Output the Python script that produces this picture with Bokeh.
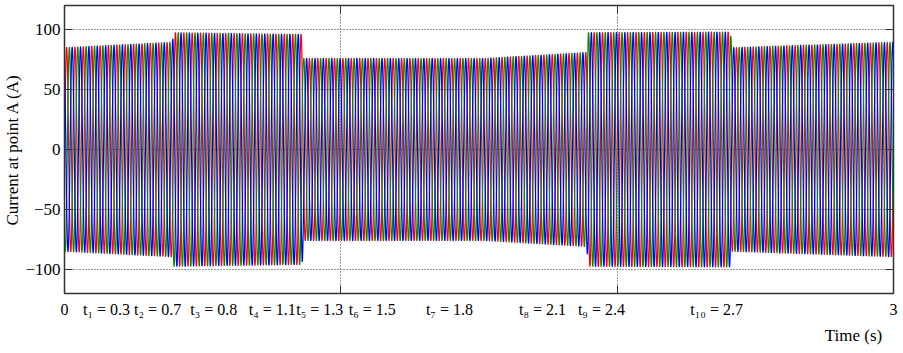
import numpy as np
from bokeh.plotting import figure
from bokeh.models import LinearAxis, FixedTicker, Range1d
from bokeh.embed import file_html
from bokeh.resources import INLINE

# ---- data ----
freq_hz = 33  # apparent stripe frequency in the picture
# amplitude envelope (A) at breakpoint times (s)
env_t = [0.0, 0.39, 0.395, 0.86, 0.865, 1.52, 1.89, 1.895, 2.41, 2.415, 3.0]
env_a = [85.0, 89.5, 97.5, 96.0, 76.0, 76.0, 81.0, 97.5, 98.0, 85.0, 89.5]
phase_deg = [0, -120, 120]
event_labels = ["t\u2081 = 0.3", "t\u2082 = 0.7", "t\u2083 = 0.8", "t\u2084 = 1.1",
                "t\u2085 = 1.3", "t\u2086 = 1.5", "t\u2087 = 1.8", "t\u2088 = 2.1",
                "t\u2089 = 2.4", "t\u2081\u2080 = 2.7"]
x_ticks = [0, 1, 2, 3]
x_tick_text = ["0", "3"]
x_tick_text_pos = [0, 3]
y_ticks = [-100, -50, 0, 50, 100]

# ---- layout / style ----
phase_colors = ["#ff0000", "#008c00", "#0000ff"]
event_label_center = [0.152, 0.337, 0.540, 0.752, 0.924, 1.114, 1.393, 1.730, 1.943, 2.360]
time_label_center = 2.855
FONT = "'Liberation Serif', 'Times New Roman', serif"

t = np.linspace(0.0, 3.0, 12001)
env = np.interp(t, env_t, env_a)

p = figure(frame_width=829, frame_height=288,
           x_range=Range1d(0, 3), y_range=Range1d(-120, 120),
           output_backend="svg", toolbar_location=None,
           min_border_left=50, min_border_right=8, min_border_top=5,
           min_border_bottom=0)
p.background_fill_color = "white"
p.border_fill_color = "white"
p.outline_line_color = "#333333"
p.outline_line_width = 1.5

for ph, col in zip(phase_deg, phase_colors):
    y = env * np.sin(2 * np.pi * freq_hz * t + np.deg2rad(ph))
    p.line(t, y, line_color=col, line_width=1.2)


def bare_axis(ax, ticks):
    ax.ticker = FixedTicker(ticks=ticks)
    ax.major_label_overrides = {v: "" for v in ticks}
    ax.major_label_standoff = 0
    ax.major_tick_in = 8
    ax.major_tick_out = 0
    ax.minor_tick_in = 0
    ax.minor_tick_out = 0
    ax.axis_line_color = "#333333"
    ax.major_tick_line_color = "#333333"


def text_axis(ax, positions, texts, size, standoff):
    ax.ticker = FixedTicker(ticks=positions)
    ax.major_label_overrides = dict(zip(positions, texts))
    ax.major_label_standoff = standoff
    ax.major_tick_in = 0
    ax.major_tick_out = 0
    ax.minor_tick_in = 0
    ax.minor_tick_out = 0
    ax.axis_line_color = None
    ax.major_label_text_font = FONT
    ax.major_label_text_font_size = size
    ax.major_label_text_color = "black"


bare_axis(p.xaxis[0], x_ticks)
ya = p.yaxis[0]
ya.ticker = FixedTicker(ticks=y_ticks)
ya.major_tick_in = 8
ya.major_tick_out = 0
ya.minor_tick_in = 0
ya.minor_tick_out = 0
ya.axis_line_color = "#333333"
ya.major_tick_line_color = "#333333"
ya.major_label_text_font = FONT
ya.major_label_text_font_size = "17px"
ya.major_label_text_color = "black"
ya.major_label_standoff = 4
ya.axis_label = "Current at point A (A)"
ya.axis_label_text_font = FONT
ya.axis_label_text_font_size = "17px"
ya.axis_label_text_font_style = "normal"
ya.axis_label_text_color = "black"
ya.axis_label_standoff = 0

row_pos = x_tick_text_pos + event_label_center
row_txt = x_tick_text + event_labels
ax_b = LinearAxis()
text_axis(ax_b, row_pos, row_txt, "16px", 7)
p.add_layout(ax_b, "below")

ax_c = LinearAxis()
text_axis(ax_c, [time_label_center], ["Time (s)"], "17px", 5)
p.add_layout(ax_c, "below")

top_ax = LinearAxis()
bare_axis(top_ax, x_ticks)
p.add_layout(top_ax, "above")
right_ax = LinearAxis()
bare_axis(right_ax, y_ticks)
p.add_layout(right_ax, "right")

p.xgrid.ticker = FixedTicker(ticks=[1, 2])
p.ygrid.ticker = FixedTicker(ticks=y_ticks)
for g in (p.xgrid[0], p.ygrid[0]):
    g.grid_line_color = "#333333"
    g.grid_line_dash = "1 2"
    g.grid_line_width = 1

open("out.html", "w").write(file_html(p, INLINE))
